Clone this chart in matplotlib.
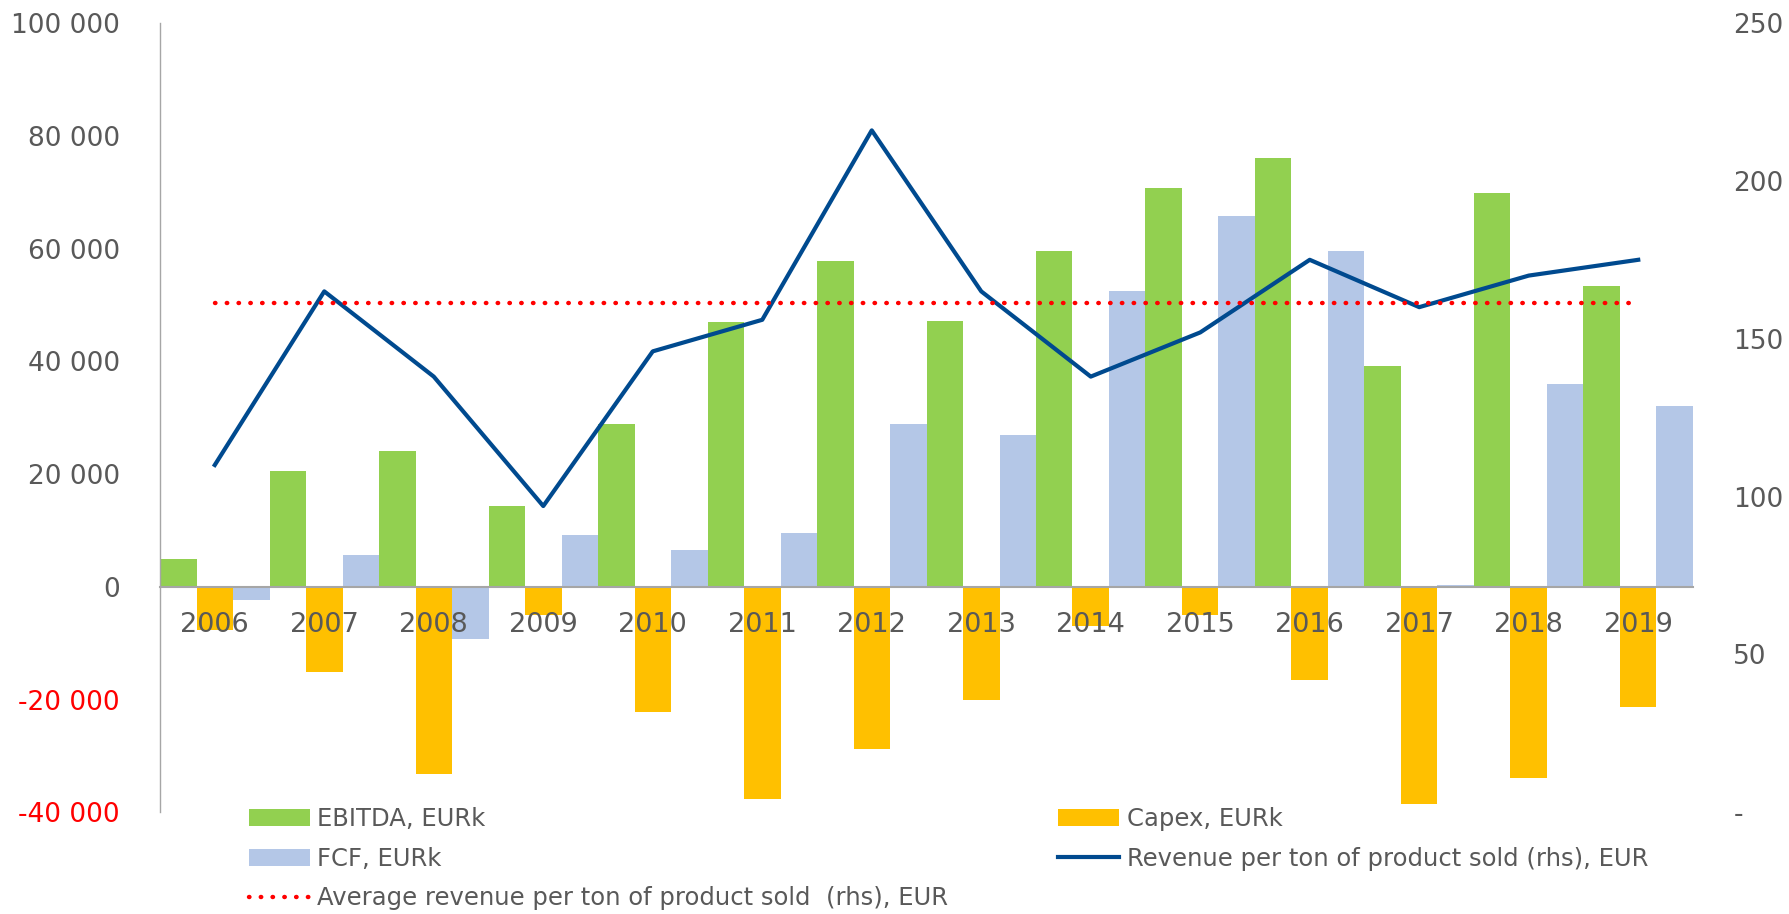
import matplotlib.pyplot as plt
import numpy as np
from matplotlib.ticker import FuncFormatter

plt.rcParams["font.family"] = ["DejaVu Sans"]

years = [str(y) for y in range(2006, 2020)]
ebitda = [5000, 20600, 24000, 14400, 28900, 47000, 57700, 47200, 59500, 70700, 76100, 39100, 69900, 53400]
capex = [-7600, -15100, -33200, -5000, -22200, -37600, -28800, -20100, -7000, -5000, -16500, -38600, -33900, -21300]
fcf = [-2400, 5600, -9300, 9100, 6500, 9600, 28900, 26900, 52400, 65700, 59500, 400, 36000, 32000]
revenue_per_ton = [110, 165, 138, 97, 146, 156, 216, 165, 138, 152, 175, 160, 170, 175]
avg_revenue_per_ton = [161.4] * len(years)

GREEN = "#92D050"
ORANGE = "#FFC000"
LIGHT_BLUE = "#B4C7E7"
NAVY = "#004A8F"
TEXT = "#595959"

fig = plt.figure(figsize=(17.9, 9.14), dpi=100)
ax = fig.add_axes([0.0894, 0.1113, 0.8564, 0.8635])

x = np.arange(len(years))
w = 1 / 3
b1 = ax.bar(x - w, ebitda, w, color=GREEN, label="EBITDA, EURk")
b2 = ax.bar(x, capex, w, color=ORANGE, label="Capex, EURk")
b3 = ax.bar(x + w, fcf, w, color=LIGHT_BLUE, label="FCF, EURk")

ax.set_xlim(-0.5, len(years) - 0.5)
ax.set_ylim(-40000, 100000)
ax.set_yticks(range(-40000, 100001, 20000))
ax.yaxis.set_major_formatter(FuncFormatter(lambda v, p: f"{v:,.0f}".replace(",", " ")))
ax.tick_params(axis="y", length=0, pad=29, labelsize=19, labelcolor=TEXT)
for lbl in ax.get_yticklabels():
    if lbl.get_text().startswith("-") or lbl.get_text().startswith("\u2212"):
        lbl.set_color("red")

# category axis sits on the zero line
ax.spines["bottom"].set_position(("data", 0))
ax.spines["bottom"].set_color("#A6A6A6")
ax.spines["bottom"].set_linewidth(1.5)
ax.spines["left"].set_color("#A6A6A6")
ax.spines["left"].set_linewidth(1.0)
ax.spines["top"].set_visible(False)
ax.spines["right"].set_visible(False)
ax.set_xticks(x)
ax.set_xticklabels(years)
ax.tick_params(axis="x", length=0, pad=18, labelsize=19.5, labelcolor=TEXT)

ax2 = ax.twinx()
ax2.set_ylim(0, 250)
ax2.set_yticks(range(0, 251, 50))
ax2.set_yticklabels(["-", "50", "100", "150", "200", "250"])
ax2.tick_params(axis="y", length=0, pad=29, labelsize=19, labelcolor=TEXT)
for s in ax2.spines.values():
    s.set_visible(False)

(l1,) = ax2.plot(x, revenue_per_ton, color=NAVY, lw=3.0,
                 label="Revenue per ton of product sold (rhs), EUR")
(l2,) = ax2.plot(x, avg_revenue_per_ton, color="red", lw=3.2,
                 linestyle=(0, (0.1, 2.55)), dash_capstyle="round",
                 label="Average revenue per ton of product sold  (rhs), EUR")

fig.legend([b1, b3, l2, b2, l1],
           [b1.get_label(), b3.get_label(), l2.get_label(), b2.get_label(), l1.get_label()],
           ncol=2, loc="upper left", bbox_to_anchor=(0.139, 0.117),
           frameon=False, fontsize=17.5, labelcolor=TEXT, borderpad=0,
           handlelength=2.5, handletextpad=0.3, columnspacing=4.55,
           labelspacing=0.64, borderaxespad=0)

fig.savefig("out.png", dpi=100)
